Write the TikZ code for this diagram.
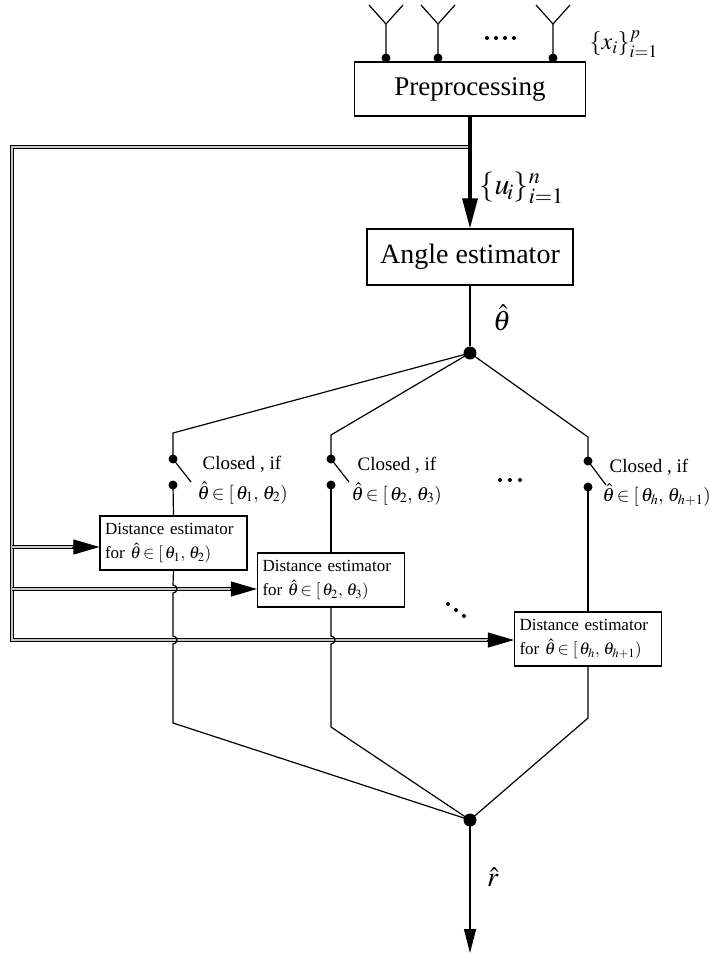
\documentclass[tikz,border=0pt]{standalone}
\usepackage{mathptmx}
\usepackage[no-math]{fontspec}
\setmainfont{Liberation Serif}
\usetikzlibrary{arrows.meta}
\newcommand\setfs[2]{\fontsize{#1}{#2}\selectfont}
\begin{document}
\begin{tikzpicture}[x=1pt,y=-1pt,line width=1.2pt,
  blk/.style={draw, line width=1.2pt, inner sep=0pt, font=\setfs{27}{30}},
  dbox/.style={draw, fill=white, line width=1.2pt, minimum width=147pt, minimum height=54pt,
    text width=137pt, inner xsep=5pt, inner ysep=0pt, align=left, font=\setfs{17}{24}},
  dot/.style={circle, fill, inner sep=0pt, minimum size=9pt},
  bigdot/.style={circle, fill, inner sep=0pt, minimum size=13pt},
  bus/.style={line width=1pt, double=gray!45, double distance=2.2pt},
  cond/.style={anchor=base west, inner sep=0pt, font=\setfs{19}{22}},
  lab/.style={inner sep=0pt},
  busarrow/.style={line width=1pt, -{Triangle[length=26pt,width=15pt]}},
]
\useasboundingbox (0,0) rectangle (710,954);

% processing chain
\node[blk, minimum width=231pt, minimum height=54pt] (pre) at (470,89) {Preprocessing};
\node[blk, minimum width=206pt, minimum height=56pt, font=\setfs{28}{30}] (ang) at (470,257) {Angle estimator};

% antenna array
\foreach \ax/\nm in {386/a1, 438/a2, 553/a3}{
  \node[dot] (\nm) at (\ax,58) {};
  \draw (\nm.center) -- (\ax,24) -- (\ax-17,5) (\ax,24) -- (\ax+17,5);
}
\foreach \dx in {487,496,505,514} \fill (\dx,38) circle (2pt);
\node[lab, anchor=west, font=\setfs{24}{26}] (xlab) at (589,44) {$\{x_i\}_{i=1}^{p}$};

% distance estimators
\node[dbox] (d1) at (173.5,543) {Distance estimator\\for $\hat{\theta}\!\in[\,\theta_1,\,\theta_2)$};
\node[dbox] (d2) at (331,580) {Distance estimator\\for $\hat{\theta}\!\in[\,\theta_2,\,\theta_3)$};
\node[dbox] (d3) at (588,639) {Distance estimator\\for $\hat{\theta}\!\in[\,\theta_h,\,\theta_{h+1})$};

% entry points of the feedback bus
\coordinate (y1) at (0,547);
\coordinate (y2) at (0,589);
\coordinate (y3) at (0,640);
\coordinate (in1) at (d1.west |- y1);
\coordinate (in2) at (d2.west |- y2);
\coordinate (in3) at (d3.west |- y3);
\coordinate (tap) at (470,147);

% feedback bus (double line)
\draw[bus] (tap) -| (12,640) -- ([xshift=-24pt]in3);
\draw[bus] (12,547) -- ([xshift=-24pt]in1);
\draw[bus] (12,589) -- ([xshift=-24pt]in2);
\draw[busarrow] ([xshift=-27pt]in1) -- (in1);
\draw[busarrow] ([xshift=-27pt]in2) -- (in2);
\draw[busarrow] ([xshift=-27pt]in3) -- (in3);

% main signal path
\draw[line width=3.2pt, -{Triangle[length=30pt,width=15pt]}] (pre.south) -- (ang.north);
\node[lab, anchor=west, font=\setfs{30}{32}] (ulab) at (479,188) {$\{u_{\!i}\}^{n}_{i=1}$};

\node[bigdot] (jt) at (470,353) {};
\draw (ang.south) -- (jt);
\node[lab, font=\setfs{28}{30}] (thlab) at (502,318) {$\hat{\theta}$};

% switches
\node[dot] (s1a) at (173,459) {};
\node[dot] (s1b) at (173,485) {};
\node[dot] (s2a) at (331,459) {};
\node[dot] (s2b) at (331,485) {};
\node[dot] (s3a) at (588,461) {};
\node[dot] (s3b) at (588,487) {};
\draw (jt.center) -- (173,433) -- (s1a.center) -- (191,482);
\draw (jt.center) -- (331,435) -- (s2a.center) -- (349,482);
\draw (jt.center) -- (588,437) -- (s3a.center) -- (606,485);
\draw (s1b.center) -- (d1.north);
\draw (s2b.center) -- (d2.north);
\draw (s3b.center) -- (d3.north);

\node[cond] (c1) at (202,469) {Closed , if};
\node[cond] (c1b) at (197,499) {$\hat{\theta}\!\in[\,\theta_1,\,\theta_2)$};
\node[cond] (c2) at (357,470) {Closed , if};
\node[cond] (c2b) at (351,500) {$\hat{\theta}\!\in[\,\theta_2,\,\theta_3)$};
\node[cond] (c3) at (609,472) {Closed , if};
\node[cond] (c3b) at (602,501) {$\hat{\theta}\!\in[\,\theta_h,\,\theta_{h+1})$};

\foreach \dx in {500,510,520} \fill (\dx,480) circle (2pt);
\foreach \dx/\dy in {448/604,456/610,464/616} \fill (\dx,\dy) circle (2pt);

% combining the estimates
\node[bigdot] (jb) at (470,820) {};
\draw (d1.south) -- (173,585) arc[start angle=90,end angle=-90,radius=4pt]
      -- (173,636) arc[start angle=90,end angle=-90,radius=4pt]
      -- (173,723) -- (jb.center);
\draw (d2.south) -- (331,636) arc[start angle=90,end angle=-90,radius=4pt]
      -- (331,727) -- (jb.center);
\draw (d3.south) -- (588,718) -- (jb.center);

\coordinate (out) at (470,953);
\draw[-{Triangle[length=24pt,width=12pt]}] (jb.center) -- (out);
\node[lab, font=\setfs{28}{30}] (rlab) at (493,877) {$\hat{r}$};
\end{tikzpicture}
\end{document}
